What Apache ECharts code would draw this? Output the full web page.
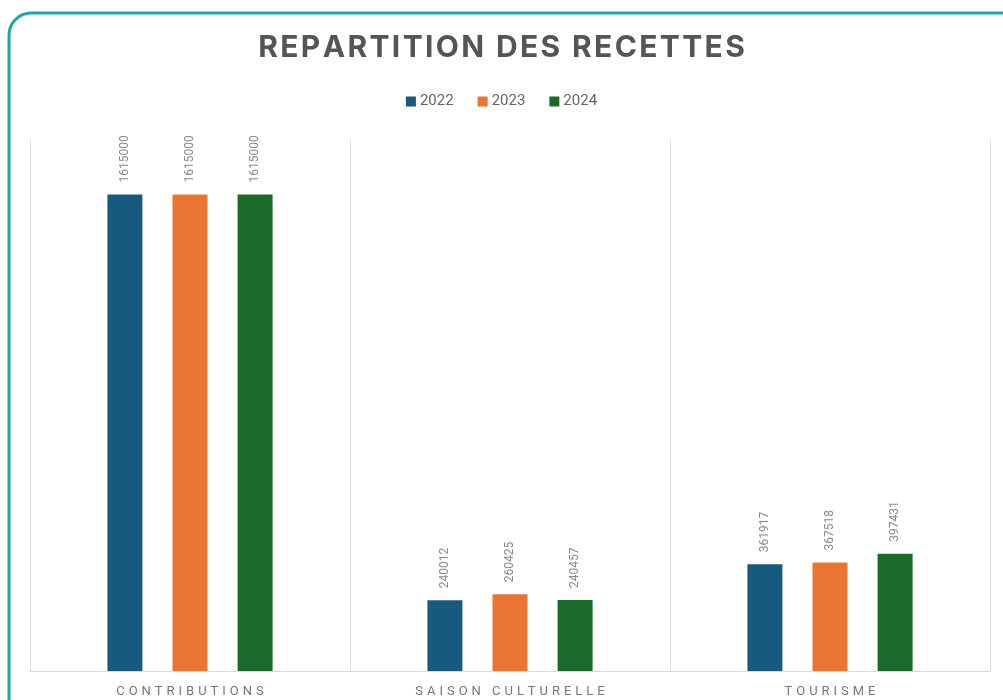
<!DOCTYPE html>
<html>
<head>
<meta charset="utf-8">
<script src="https://cdn.jsdelivr.net/npm/echarts@6/dist/echarts.min.js"></script>
<style>
  html, body { margin: 0; padding: 0; background: #fff; }
  #chart { width: 1003px; height: 700px; }
</style>
</head>
<body>
<div id="chart"></div>
<script>
// données
const categories = ['CONTRIBUTIONS', 'SAISON CULTURELLE', 'TOURISME']
const years = ['2022', '2023', '2024']
const values2022 = [1615000, 240012, 361917]
const values2023 = [1615000, 260425, 367518]
const values2024 = [1615000, 240457, 397431]
const colors = ['#175a80', '#ea7431', '#1a6b2a']

// espacement des lettres
const spaced = (s, sep) => s.split('').join(sep)

const chart = echarts.init(document.getElementById('chart'))

const seriesValues = [values2022, values2023, values2024]
const series = years.map((y, i) => ({
  name: y,
  type: 'bar',
  data: seriesValues[i],
  barWidth: 35,
  barGap: '86%',
  itemStyle: { color: colors[i] },
  label: {
    show: true,
    position: 'top',
    rotate: 90,
    align: 'left',
    verticalAlign: 'middle',
    distance: 12,
    color: '#8a8a8a',
    fontSize: 12,
    fontFamily: 'Roboto'
  }
}))

chart.setOption({
  animation: false,
  graphic: [{
    type: 'rect',
    shape: { x: 9, y: 13, width: 1020, height: 720, r: 22 },
    style: { fill: 'none', stroke: '#17a9a9', lineWidth: 3 }
  }],
  title: {
    text: spaced('REPARTITION DES RECETTES', '\u200a'),
    left: 'center',
    top: 28,
    textStyle: {
      fontFamily: 'Inter',
      fontWeight: 700,
      fontSize: 30,
      color: '#555555'
    }
  },
  legend: {
    top: 89,
    left: 'center',
    itemWidth: 10,
    itemHeight: 10,
    itemGap: 24,
    icon: 'rect',
    textStyle: { color: '#666', fontSize: 15, fontFamily: 'Roboto', padding: [0, 0, 0, -1] }
  },
  grid: { left: 30, right: 13, top: 140, bottom: 29 },
  xAxis: {
    type: 'category',
    data: categories,
    axisTick: { show: false },
    axisLine: { lineStyle: { color: '#d9d9d9' } },
    splitLine: { show: true, interval: 0, lineStyle: { color: '#e2e2e2' } },
    axisLabel: {
      margin: 14,
      color: '#777',
      fontSize: 13,
      fontFamily: 'Roboto',
      formatter: v => spaced(v, '\u2009\u200a')
    }
  },
  yAxis: {
    type: 'value',
    min: 0,
    max: 1800000,
    show: false,
    splitLine: { show: false }
  },
  series: series
})
</script>
</body>
</html>
